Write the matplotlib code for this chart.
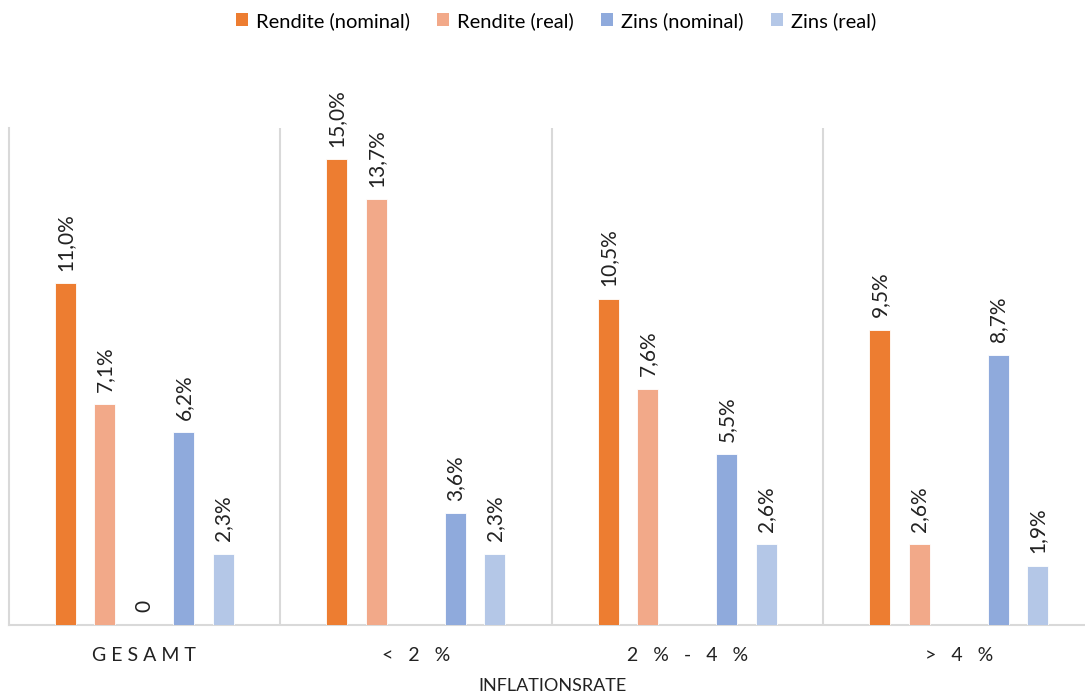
import numpy as np
import matplotlib
matplotlib.use("Agg")
import matplotlib.pyplot as plt
from matplotlib.patches import Patch

plt.rcParams['font.family'] = ['Lato', 'DejaVu Sans']

# categories and values (in %)
categories = ["GESAMT", "< 2 %", "2 % - 4 %", "> 4 %"]
rendite_nominal = [11.0, 15.0, 10.5, 9.5]
rendite_real = [7.1, 13.7, 7.6, 2.6]
leer = [0, np.nan, np.nan, np.nan]   # empty series, shows "0" only in first group
zins_nominal = [6.2, 3.6, 5.5, 8.7]
zins_real = [2.3, 2.3, 2.6, 1.9]

series = [
    ("Rendite (nominal)", rendite_nominal, "#ED7D31"),
    ("Rendite (real)", rendite_real, "#F2A989"),
    (None, leer, "#A5A5A5"),
    ("Zins (nominal)", zins_nominal, "#8FAADC"),
    ("Zins (real)", zins_real, "#B4C7E7"),
]


def spaced(label):
    # imitate the letter spacing of the category labels
    return label.replace(" ", "\0").replace("", " ").strip().replace("\0", " ")


W, H = 1085, 695
fig = plt.figure(figsize=(W / 100, H / 100), dpi=100)
ax = fig.add_axes([8.5 / W, (H - 625) / H, 1086 / W, 497 / H])

x = np.arange(len(categories))
slot = 0.1455
bar_w = 0.078
for k, (name, vals, col) in enumerate(series):
    pos = x + (k - 2) * slot
    for p, v in zip(pos, vals):
        if np.isnan(v):
            continue
        ax.bar(p, v, width=bar_w, color=col, edgecolor="white", linewidth=0.6, zorder=3)
        txt = "0" if v == 0 else f"{v:.1f}%".replace(".", ",")
        ax.annotate(txt, (p, v), xytext=(0, 9), textcoords="offset points",
                    rotation=90, ha="center", va="bottom", fontsize=15, color="#222222")

ax.set_xlim(-0.5, 3.5)
ax.set_ylim(0, 16)
ax.set_yticks([])
ax.set_xticks(x)
ax.set_xticklabels([spaced(c) for c in categories], fontsize=14, color="#222222")
ax.tick_params(axis="x", length=0, pad=16)
for s in ["top", "right"]:
    ax.spines[s].set_visible(False)
ax.spines["left"].set_color("#D9D9D9")
ax.spines["left"].set_linewidth(1.5)
ax.spines["bottom"].set_color("#D9D9D9")
ax.spines["bottom"].set_linewidth(1.5)
for sep in [0.5, 1.5, 2.5]:
    ax.axvline(sep, color="#D9D9D9", linewidth=1.5, zorder=1)

fig.text(552 / W, 1 - 686 / H, "INFLATIONSRATE", ha="center", va="center",
         fontsize=13, color="#222222")

handles = [Patch(facecolor=c, label=n) for n, v, c in series if n]
fig.legend(handles=handles, loc="center", bbox_to_anchor=(556 / W, 1 - 21 / H), ncol=4,
           frameon=False, fontsize=14.5, handlelength=0.6, handleheight=0.6,
           handletextpad=0.4, columnspacing=1.35)

fig.savefig("out.png", dpi=100)
